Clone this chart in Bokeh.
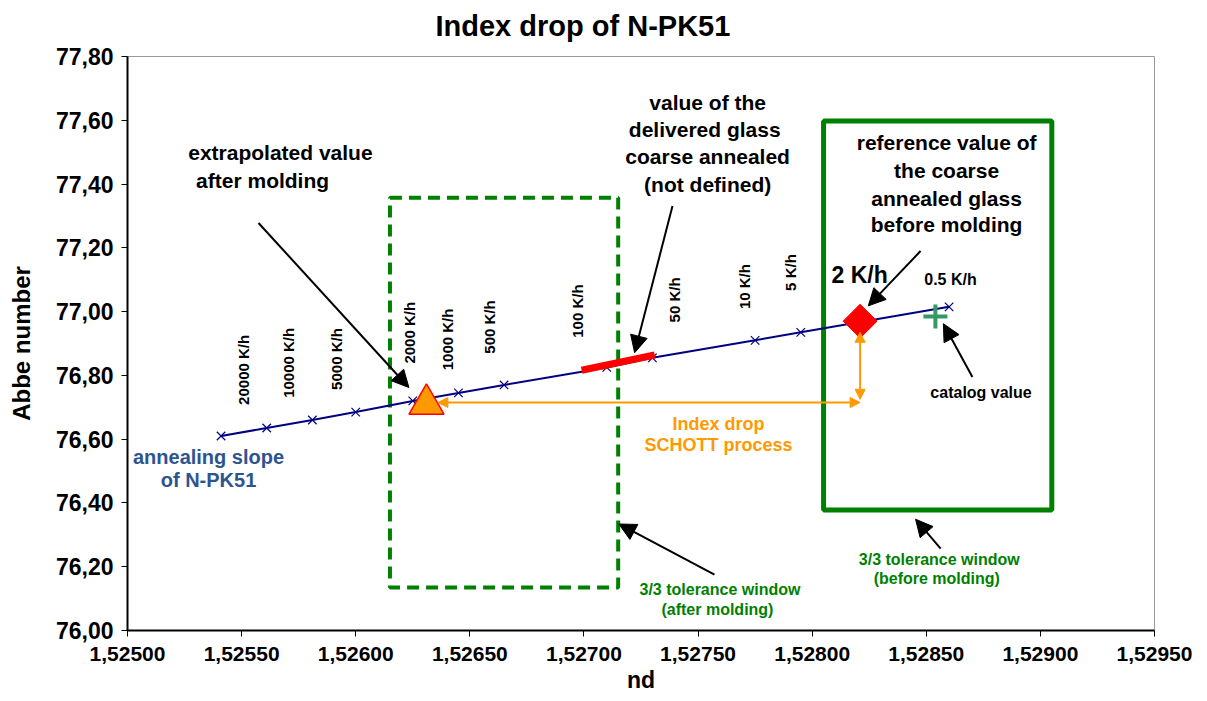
import numpy as np
from bokeh.plotting import figure
from bokeh.models import Range1d, FixedTicker, CustomJSTickFormatter, Arrow, NormalHead, ColumnDataSource, Title
from bokeh.core.properties import value
from bokeh.embed import file_html
from bokeh.resources import INLINE

FONT = "Liberation Sans"

# ---------------- data ----------------
x_ticks = [1.52500, 1.52550, 1.52600, 1.52650, 1.52700, 1.52750, 1.52800, 1.52850, 1.52900, 1.52950]
y_ticks = [76.00, 76.20, 76.40, 76.60, 76.80, 77.00, 77.20, 77.40, 77.60, 77.80]

# annealing slope (nd, Abbe number)
slope_nd = [1.52541, 1.52561, 1.52581, 1.52600, 1.52625, 1.52645, 1.52665, 1.52710, 1.52730, 1.52775, 1.52795, 1.52860]
slope_abbe = [76.61, 76.635, 76.66, 76.685, 76.72, 76.745, 76.77, 76.825, 76.855, 76.91, 76.935, 77.015]

# cooling-rate labels and their anchor points (data units)
rate_labels = ["20000 K/h", "10000 K/h", "5000 K/h", "2000 K/h", "1000 K/h", "500 K/h", "100 K/h", "50 K/h", "10 K/h", "5 K/h"]
rate_label_nd = [1.525508, 1.525706, 1.525915, 1.526236, 1.526401, 1.526586, 1.526971, 1.527397, 1.527704, 1.527905]
rate_label_abbe = [76.7075, 76.7295, 76.7545, 76.837, 76.816, 76.868, 76.918, 76.966, 77.008, 77.065]

# delivered glass (coarse annealed) segment
delivered_nd = [1.52699, 1.52731]
delivered_abbe = [76.816, 76.864]

# special points
extrapolated_nd, extrapolated_abbe = [1.52631], [76.71]
reference_nd, reference_abbe = [1.52821], [76.97]
catalog_nd, catalog_abbe = [1.52854], [76.985]

# tolerance windows: left, right, bottom, top
after_window = [1.52615, 1.52715, 76.135, 77.357]
before_window = [1.52805, 1.52905, 76.378, 77.598]

# index drop arrows (orange)
drop_h = [1.52636, 76.715, 1.52821, 76.715]
drop_v = [1.52821, 76.725, 1.52821, 76.935]

# annotation arrows (tail x, tail y, tip x, tip y)
note_arrows = [
    [1.525574, 77.278, 1.526233, 76.762],
    [1.527388, 77.331, 1.527222, 76.871],
    [1.528475, 77.190, 1.528246, 77.018],
    [1.528702, 76.795, 1.528575, 76.962],
    [1.527572, 76.175, 1.527153, 76.334],
    [1.528563, 76.257, 1.528453, 76.349],
]

black_texts = ["extrapolated value", "after molding",
               "value of the", "delivered  glass", "coarse annealed", "(not defined)",
               "reference value of", "the coarse", "annealed glass", "before molding"]
black_text_nd = [1.52567, 1.525592, 1.527542, 1.527542, 1.527542, 1.527542, 1.528589, 1.528589, 1.528589, 1.528589]
black_text_abbe = [77.4975, 77.410, 77.657, 77.570, 77.485, 77.400, 77.529, 77.441, 77.356, 77.272]

green_texts = ["3/3 tolerance window", "(after molding)", "3/3 tolerance window", "(before molding)"]
green_text_nd = [1.527596, 1.527585, 1.528557, 1.528546]
green_text_abbe = [76.130, 76.067, 76.222, 76.163]

orange_texts = ["Index drop", "SCHOTT process"]
orange_text_nd = [1.52759, 1.52759]
orange_text_abbe = [76.649, 76.582]

blue_texts = ["annealing slope", "of N-PK51"]
blue_text_nd = [1.525355, 1.525355]
blue_text_abbe = [76.5445, 76.472]

small_texts = ["0.5 K/h", "catalog value"]
small_text_nd = [1.528606, 1.52874]
small_text_abbe = [77.101, 76.746]

big_texts = ["2 K/h"]
big_text_nd = [1.528208]
big_text_abbe = [77.115]

title_text = "Index drop of N-PK51"
x_label_text = "nd"
y_label_text = "Abbe number"

# ---------------- figure ----------------
p = figure(width=1200, height=699,
           x_range=Range1d(1.525, 1.5295), y_range=Range1d(76.0, 77.8),
           output_backend="svg", toolbar_location=None,
           min_border_left=127, min_border_right=46, min_border_top=56, min_border_bottom=69)
p.xgrid.visible = False
p.ygrid.visible = False
p.outline_line_color = "#9a9a9a"
p.outline_line_width = 1
p.background_fill_color = "white"
p.border_fill_color = "white"

# spacer between frame and title
p.add_layout(Title(text=" ", text_font_size="6px", standoff=0), "above")

p.title.text = title_text
p.title.text_font = FONT
p.title.text_font_size = "29px"
p.title.text_font_style = "bold"
p.title.text_color = "black"
p.title.align = "left"
p.title.offset = 308
p.title.vertical_align = "top"
p.title.standoff = 10

for ax in (p.xaxis[0], p.yaxis[0]):
    ax.axis_line_width = 2
    ax.axis_line_color = "black"
    ax.major_tick_out = 6
    ax.major_tick_in = 0
    ax.major_tick_line_color = "black"
    ax.minor_tick_line_color = None
    ax.major_label_text_font = FONT
    ax.major_label_text_font_style = "bold"
    ax.major_label_text_color = "black"
    ax.axis_label_text_font = FONT
    ax.axis_label_text_font_style = "bold"
    ax.axis_label_text_color = "black"

p.xaxis.ticker = FixedTicker(ticks=x_ticks)
p.yaxis.ticker = FixedTicker(ticks=y_ticks)
p.xaxis.formatter = CustomJSTickFormatter(code="return tick.toFixed(5).replace('.', ',');")
p.yaxis.formatter = CustomJSTickFormatter(code="return tick.toFixed(2).replace('.', ',');")
p.xaxis.major_label_text_font_size = "21px"
p.yaxis.major_label_text_font_size = "23px"
p.xaxis.major_label_standoff = 10
p.yaxis.major_label_standoff = 8
p.xaxis.axis_label = x_label_text
p.xaxis.axis_label_text_font_size = "23px"
p.xaxis.axis_label_standoff = 3
p.yaxis.axis_label = y_label_text
p.yaxis.axis_label_text_font_size = "24px"
p.yaxis.axis_label_standoff = 18

# tolerance windows
p.quad(left=[after_window[0]], right=[after_window[1]], bottom=[after_window[2]], top=[after_window[3]],
       fill_alpha=0, line_color="#008000", line_width=4, line_dash="12 7")
p.quad(left=[before_window[0]], right=[before_window[1]], bottom=[before_window[2]], top=[before_window[3]],
       fill_alpha=0, line_color="#008000", line_width=5)

# annealing slope
p.line(slope_nd, slope_abbe, line_color="#000080", line_width=2)
p.scatter(slope_nd, slope_abbe, marker="x", size=12, line_color="#000080", line_width=1.2)

# delivered glass
p.line(delivered_nd, delivered_abbe, line_color="#ff0000", line_width=7)

# index drop arrows
for a in (drop_h, drop_v):
    p.add_layout(Arrow(x_start=a[0], y_start=a[1], x_end=a[2], y_end=a[3],
                       line_color="#ff9900", line_width=2,
                       start=NormalHead(size=10, fill_color="#ff9900", line_color="#ff9900"),
                       end=NormalHead(size=10, fill_color="#ff9900", line_color="#ff9900")))

# special points
p.scatter(reference_nd, reference_abbe, marker="square", angle=np.pi / 4, size=24,
          fill_color="#ff0000", line_color="#ff0000")
p.scatter(extrapolated_nd, extrapolated_abbe, marker="triangle", size=35,
          fill_color="#ff9900", line_color="#ff0000", line_width=1.5)
p.scatter(catalog_nd, catalog_abbe, marker="cross", size=24, line_color="#339966", line_width=4)

# annotation arrows
for a in note_arrows:
    p.add_layout(Arrow(x_start=a[0], y_start=a[1], x_end=a[2], y_end=a[3],
                       line_color="black", line_width=2,
                       end=NormalHead(size=17, fill_color="black", line_color="black")))

def add_text(texts, xs, ys, color, size, angle=0.0, align="center"):
    src = ColumnDataSource(dict(x=xs, y=ys, t=texts))
    p.text(x="x", y="y", text="t", source=src, text_color=color,
           text_font=value(FONT), text_font_style="bold", text_font_size=size,
           text_align=align, text_baseline="middle", angle=angle)

add_text(rate_labels, rate_label_nd, rate_label_abbe, "black", "15px", angle=np.pi / 2, align="left")
add_text(black_texts, black_text_nd, black_text_abbe, "black", "21px")
add_text(green_texts, green_text_nd, green_text_abbe, "#008000", "16px")
add_text(orange_texts, orange_text_nd, orange_text_abbe, "#ff9900", "18px")
add_text(blue_texts, blue_text_nd, blue_text_abbe, "#2e5490", "20px")
add_text(small_texts, small_text_nd, small_text_abbe, "black", "16px")
add_text(big_texts, big_text_nd, big_text_abbe, "black", "23px")

open("out.html", "w").write(file_html(p, INLINE))
